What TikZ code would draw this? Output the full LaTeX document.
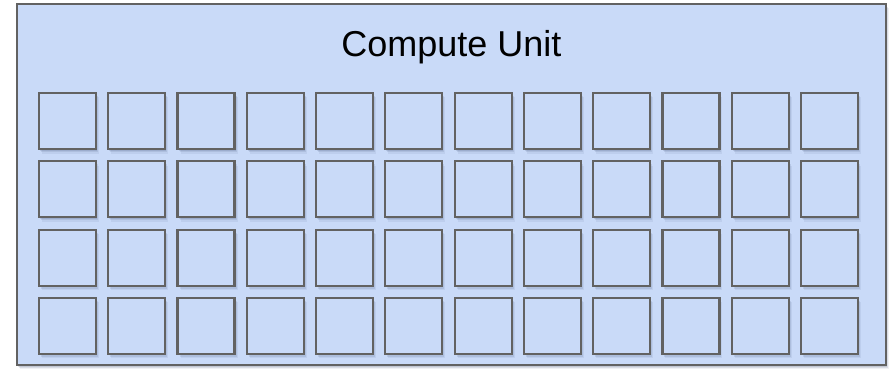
\documentclass[tikz,border=0pt]{standalone}
\usepackage{fontspec}
\setmainfont{Liberation Sans}
\usepackage{xcolor}
\usepackage{tikz}
\usetikzlibrary{shadows, positioning}
\definecolor{cufill}{HTML}{C9DAF8}
\definecolor{cuedge}{HTML}{626262}
\definecolor{cushade}{HTML}{3A4A70}
\tikzstyle{softshadow} = [drop shadow={shadow xshift=1pt, shadow yshift=-1.5pt, fill=cushade, opacity=0.15}, drop shadow={shadow xshift=2pt, shadow yshift=-3pt, fill=cushade, opacity=0.12}, drop shadow={shadow xshift=3pt, shadow yshift=-4.5pt, fill=cushade, opacity=0.08}]
\tikzstyle{unitbox} = [rectangle, draw=cuedge, fill=cufill, line width=2pt, minimum width=869pt, minimum height=361pt, softshadow]
\tikzstyle{cell} = [rectangle, draw=cuedge, fill=cufill, line width=2.2pt, minimum width=57pt, minimum height=56pt, inner sep=0pt, softshadow]

\begin{document}
\begin{tikzpicture}[x=1pt, y=-1pt]
\useasboundingbox (0,0) rectangle (895,369);
\node (cu) [unitbox] at (451.5,184.5) {};
\node (title) [anchor=base] at (451.5,57) {\fontsize{36}{42}\selectfont Compute Unit};
% grid of processing elements
\foreach \r in {0,...,3}
  \foreach \c in {0,...,11}
    \node (pe-\r-\c) [cell] at ({67.5+69.27*\c},{121+68.3*\r}) {};
\end{tikzpicture}
\end{document}
